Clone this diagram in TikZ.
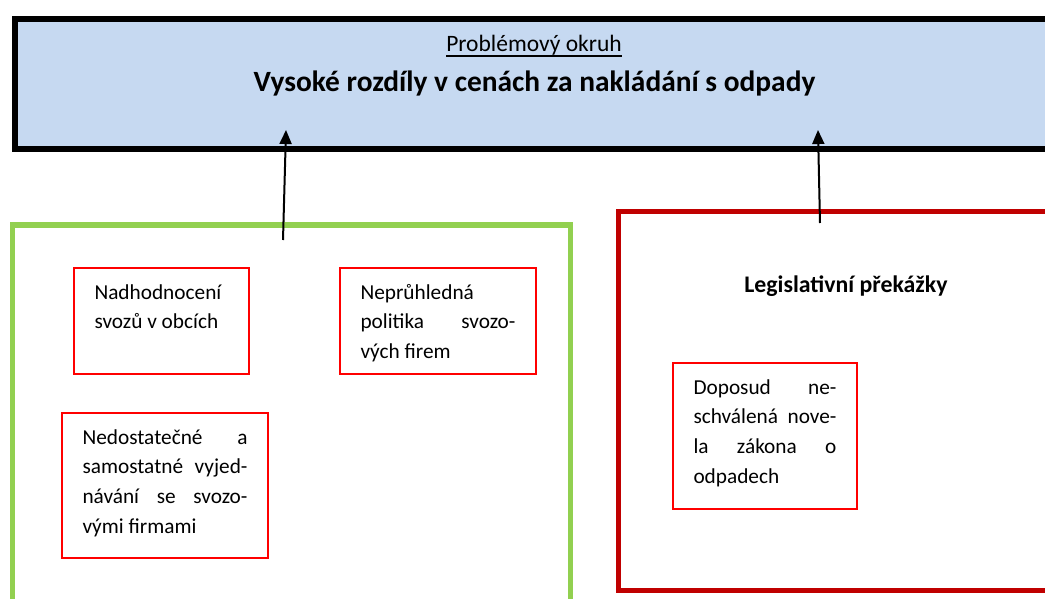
\documentclass[tikz,border=0pt]{standalone}
\usepackage{fontspec}
\setmainfont{Carlito}
\usetikzlibrary{arrows.meta,positioning}
\definecolor{okruhblue}{HTML}{C6D9F1}
\definecolor{svozgreen}{HTML}{92D050}
\definecolor{legisred}{HTML}{C00000}
\newcommand{\jline}[1]{\makebox[\linewidth][s]{#1}}
\newcommand{\boxlines}[3]{\parbox[t][#2][t]{#1}{\fontsize{21.3}{29.7}\selectfont\rule{0pt}{31pt}#3}}

\begin{document}
\begin{tikzpicture}[x=1pt,y=-1pt,
    problem/.style={draw=red, line width=1.2pt, inner xsep=20.5pt, inner ysep=0pt, outer sep=0pt, anchor=north west},
    skupina/.style={line width=5pt, inner sep=0pt, outer sep=0pt, anchor=north west},
    sipka/.style={line width=2pt, -{Triangle[width=12pt,length=14pt]}}]
  \useasboundingbox (0,0) rectangle (1045,599);
  \clip (0,0) rectangle (1045,599);
  % problemovy okruh
  \node[draw, fill=okruhblue, line width=6pt, inner sep=0pt, anchor=north west,
        minimum width=1060pt, minimum height=130pt] (okruh) at (12,16) {};
  \node[anchor=base, inner sep=0pt, font=\fontsize{23.5}{28}\selectfont] (okruhlabel) at (534,52) {Problémový okruh};
  \draw[line width=1.3pt] ([yshift=-4pt]okruhlabel.base west) -- ([yshift=-4pt]okruhlabel.base east);
  \node[anchor=base, inner sep=0pt, font=\bfseries\fontsize{29.4}{34}\selectfont] (nazev) at (534.5,92)
    {Vysoké rozdíly v cenách za nakládání s odpady};

  % skupiny
  \node[skupina, draw=svozgreen, minimum width=558pt, minimum height=420pt] (svozy) at (12.5,225) {};
  \node[skupina, draw=legisred, minimum width=450pt, minimum height=378pt] (legislativa) at (618,212) {};
  \node[anchor=base, inner sep=0pt, font=\bfseries\fontsize{23.8}{28}\selectfont] (legislabel) at (846,292)
    {Legislativní překážky};

  % problemy
  \node[problem] (nadhod) at (74,268) {\boxlines{134pt}{106pt}{%
    Nadhodnocení\\
    svozů v obcích}};
  \node[problem] (nepruhl) at (340,268) {\boxlines{155pt}{106pt}{%
    Neprůhledná\\
    \jline{politika svozo-}\\
    vých firem}};
  \node[problem] (nedost) at (62,413) {\boxlines{165pt}{145pt}{%
    \jline{Nedostatečné a}\\
    \jline{samostatné vyjed-}\\
    \jline{návání se svozo-}\\
    vými firmami}};
  \node[problem] (doposud) at (673,363) {\boxlines{143pt}{146pt}{%
    \jline{Doposud ne-}\\
    \jline{schválená nove-}\\
    \jline{la zákona o}\\
    odpadech}};

  % sipky
  \coordinate (zdrojA) at (283,240);
  \coordinate (cilA) at (286,130);
  \coordinate (zdrojB) at (820,223);
  \coordinate (cilB) at (818,130);
  \draw[sipka] (zdrojA) -- (cilA);
  \draw[sipka] (zdrojB) -- (cilB);
\end{tikzpicture}
\end{document}
